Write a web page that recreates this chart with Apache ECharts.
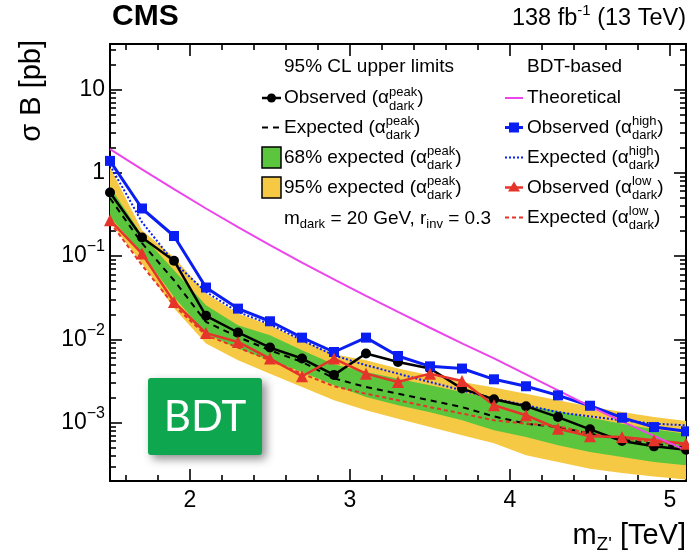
<!DOCTYPE html>
<html><head><meta charset="utf-8">
<script src="https://cdn.jsdelivr.net/npm/echarts@6.0.0/dist/echarts.min.js"></script>
<style>html,body{margin:0;padding:0;background:#fff;}#chart{width:689px;height:560px;}</style>
</head><body><div id="chart"></div>
<script>
// ---------------- data ----------------
const masses = [1.5,1.7,1.9,2.1,2.3,2.5,2.7,2.9,3.1,3.3,3.5,3.7,3.9,4.1,4.3,4.5,4.7,4.9,5.1];
const obsPeak = [0.578,0.167,0.0879,0.0192,0.0121,0.00798,0.00589,0.00375,0.00676,0.00536,0.00447,0.00257,0.00191,0.00158,0.00117,0.000834,0.000603,0.000521,0.000475];
const expPeak = [0.494,0.1426,0.0512,0.0162,0.0107,0.0074,0.00536,0.00341,0.00268,0.00223,0.00186,0.00154,0.00119,0.000975,0.000887,0.00074,0.000627,0.000561,0.000502];
const band68Hi = [0.676,0.178,0.0676,0.0256,0.0148,0.0112,0.0074,0.00502,0.00406,0.00338,0.00281,0.00234,0.00191,0.00162,0.00137,0.00115,0.000975,0.000834,0.00074];
const band68Lo = [0.2946,0.108,0.0323,0.01167,0.00776,0.00561,0.00406,0.00281,0.00204,0.00162,0.00134,0.00107,0.000811,0.000673,0.000536,0.000445,0.000387,0.000337,0.000308];
const band95Hi = [1.164,0.204,0.0968,0.0355,0.0204,0.0148,0.00975,0.00662,0.00561,0.00447,0.00371,0.00308,0.00264,0.00223,0.00186,0.00157,0.00135,0.00117,0.00105];
const band95Lo = [0.2566,0.0813,0.0236,0.00891,0.00561,0.00388,0.00268,0.00186,0.00141,0.00112,0.000888,0.000706,0.000566,0.000406,0.000337,0.000281,0.000249,0.000227,0.000209];
const obsHigh = [1.386,0.372,0.174,0.0419,0.0234,0.0165,0.0105,0.00706,0.0105,0.00632,0.00475,0.00447,0.00332,0.00274,0.00213,0.0016,0.00115,0.000887,0.000789];
const expHigh = [1.23,0.255,0.0843,0.0371,0.0213,0.0152,0.00975,0.00644,0.00489,0.00388,0.00308,0.00245,0.00195,0.00162,0.00134,0.00119,0.00107,0.000975,0.000931];
const obsLow = [0.269,0.107,0.0281,0.0119,0.00931,0.00589,0.00361,0.00589,0.00388,0.00308,0.00388,0.00317,0.00162,0.00123,0.000849,0.000687,0.000673,0.000615,0.000561];
const expLow = [0.255,0.0776,0.0256,0.0112,0.00798,0.00561,0.00388,0.00274,0.00223,0.00186,0.00154,0.00129,0.00107,0.000975,0.000912,0.000736,0.00065,0.00059,0.000536];
const theory = [1.914,1.095,0.634,0.372,0.222,0.135,0.0832,0.0526,0.0333,0.0214,0.0138,0.00897,0.00593,0.00381,0.00245,0.00157,0.00104,0.000697,0.000467];

const xTickLabels = [2,3,4,5];
const xMinorTicks = [1.6,1.8,2.2,2.4,2.6,2.8,3.2,3.4,3.6,3.8,4.2,4.4,4.6,4.8];
const yTickLabels = [1e-3,1e-2,1e-1,1,10];
const yMinorMantissas = [2,3,4,5,6,7,8,9];
const yMinorExponents = [-4,-3,-2,-1,0,1];

const XMIN = 1.5, XMAX = 5.1, YMIN = 2e-4, YMAX = 35;

// ---------------- helpers ----------------
const FF = '"Liberation Sans", Arial, Helvetica, sans-serif';
const mctx = document.createElement('canvas').getContext('2d');
function fontStr(s, w) { return (w || 'normal') + ' ' + s + 'px ' + FF; }
function tw(t, s, w) { mctx.font = fontStr(s, w); return mctx.measureText(t).width; }
function layout(list, x, y, align, color) {
  color = color || '#000';
  const widths = list.map(f => f.stack ? Math.max.apply(null, f.stack.map(g => tw(g.t, g.s, g.w))) : tw(f.t, f.s, f.w));
  const total = widths.reduce((a, b) => a + b, 0);
  let cx = align === 'right' ? x - total : (align === 'center' ? x - total / 2 : x);
  const els = [];
  list.forEach((f, i) => {
    (f.stack || [f]).forEach(p => {
      els.push({type: 'text', x: cx, y: y + (p.dy || 0), silent: true,
        style: {text: p.t, font: fontStr(p.s, p.w), fill: color,
          textAlign: 'left', textVerticalAlign: 'middle', align: 'left', verticalAlign: 'middle'}});
    });
    cx += widths[i];
  });
  return els;
}

const C_GREEN = '#5bc53e', C_YELLOW = '#f6c944', C_BLUE = '#0a1ef2', C_RED = '#e5352a', C_PINK = '#ec45ec';

function bandSeries(lo, hi, color) {
  return {
    type: 'custom', coordinateSystem: 'cartesian2d', silent: true,
    data: masses.map((m, i) => [m, lo[i], hi[i]]),
    encode: {x: 0, y: [1, 2]},
    renderItem: function (params, api) {
      if (params.dataIndex !== 0) return null;
      const top = masses.map((m, i) => api.coord([m, hi[i]]));
      const bot = masses.map((m, i) => api.coord([m, lo[i]])).reverse();
      return {type: 'polygon', shape: {points: top.concat(bot)}, style: {fill: color}};
    }
  };
}
function lineSeries(vals, color, width, dash, symbol, size) {
  return {
    type: 'line', silent: true,
    data: masses.map((m, i) => [m, vals[i]]),
    showSymbol: !!symbol, symbol: symbol || 'none', symbolSize: size || 0,
    lineStyle: {color: color, width: width, type: dash || 'solid'},
    itemStyle: {color: color},
    emphasis: {disabled: true}
  };
}

const series = [
  bandSeries(band95Lo, band95Hi, C_YELLOW),
  bandSeries(band68Lo, band68Hi, C_GREEN),
  lineSeries(expPeak, '#000', 2, [6, 5]),
  lineSeries(expHigh, C_BLUE, 2, [2, 2]),
  lineSeries(expLow, C_RED, 2, [4, 3]),
  lineSeries(obsPeak, '#000', 2.5, null, 'circle', 10),
  lineSeries(obsHigh, C_BLUE, 3, null, 'rect', 10),
  lineSeries(obsLow, C_RED, 2.5, null, 'triangle', 12),
  lineSeries(theory, C_PINK, 2),
  {
    type: 'custom', coordinateSystem: 'cartesian2d', silent: true, z: 10,
    data: yTickLabels.map(v => [XMIN, v]),
    renderItem: function (params, api) {
      const v = yTickLabels[params.dataIndex];
      const p = api.coord([XMIN, v]);
      const e = Math.round(Math.log10(v));
      const list = e === 1 ? [{t: '10', s: 23}] : e === 0 ? [{t: '1', s: 23}]
        : [{t: '10', s: 23}, {t: '\u2212' + (-e), s: 16, dy: -9}];
      return {type: 'group', children: layout(list, p[0] - 5, p[1], 'right')};
    }
  }
];

// ---------------- tick axes (native axis ticks at given values) ----------------
const yMinorTicks = [];
yMinorExponents.forEach(e => yMinorMantissas.forEach(m => {
  const v = m * Math.pow(10, e);
  if (v > YMIN * 1.001 && v < YMAX) yMinorTicks.push(v);
}));
const LOGMIN = Math.log10(YMIN), LOGMAX = Math.log10(YMAX);
function tickXAxis(pos, values, len) {
  return {type: 'value', min: XMIN, max: XMAX, position: pos, show: true, offset: 0,
    axisLine: {show: false, onZero: false}, splitLine: {show: false}, axisLabel: {show: false},
    axisTick: {show: true, inside: true, length: len, customValues: values, lineStyle: {color: '#000', width: 1.6}}};
}
function tickYAxis(pos, values, len) {
  return {type: 'value', min: LOGMIN, max: LOGMAX, position: pos, show: true, offset: 0,
    axisLine: {show: false, onZero: false}, splitLine: {show: false}, axisLabel: {show: false},
    axisTick: {show: true, inside: true, length: len, customValues: values.map(v => Math.log10(v)), lineStyle: {color: '#000', width: 1.6}}};
}

// ---------------- text & legend (graphic) ----------------
const LS = 19, SS = 13;
function alpha(sup) { return [{t: '\u03b1', s: LS}, {stack: [{t: sup, s: SS, dy: -6}, {t: 'dark', s: SS, dy: 8}]}, {t: ')', s: LS}]; }
const LX = 284, RX = 527;
const rows = [67, 98, 127.5, 157.5, 187.5, 217.5];
let g = [];
g = g.concat(layout([{t: 'CMS', s: 30, w: 'bold'}], 112, 17));
g = g.concat(layout([{t: '138 fb', s: 23.5}, {t: '-1', s: 15, dy: -8}, {t: ' (13 TeV)', s: 23.5}], 686, 19, 'right'));
g = g.concat(layout([{t: 'm', s: 29}, {t: "Z'", s: 19, dy: 9}, {t: ' [TeV]', s: 29}], 686, 536, 'right'));
g.push({type: 'text', x: 32, y: 40, rotation: Math.PI / 2, silent: true,
  style: {text: '\u03c3 B [pb]', font: fontStr(29), fill: '#000', textAlign: 'right', textVerticalAlign: 'middle', align: 'right', verticalAlign: 'middle'}});

g = g.concat(layout([{t: '95% CL upper limits', s: LS}], LX, rows[0]));
g = g.concat(layout([{t: 'Observed (', s: LS}].concat(alpha('peak')), LX, rows[1]));
g = g.concat(layout([{t: 'Expected (', s: LS}].concat(alpha('peak')), LX, rows[2]));
g = g.concat(layout([{t: '68% expected (', s: LS}].concat(alpha('peak')), LX, rows[3]));
g = g.concat(layout([{t: '95% expected (', s: LS}].concat(alpha('peak')), LX, rows[4]));
g = g.concat(layout([{t: 'm', s: LS}, {t: 'dark', s: SS, dy: 6}, {t: ' = 20 GeV, r', s: LS}, {t: 'inv', s: SS, dy: 6}, {t: ' = 0.3', s: LS}], LX, rows[5] + 1));

g = g.concat(layout([{t: 'BDT-based', s: LS}], RX, rows[0]));
g = g.concat(layout([{t: 'Theoretical', s: LS}], RX, rows[1]));
g = g.concat(layout([{t: 'Observed (', s: LS}].concat(alpha('high')), RX, rows[2]));
g = g.concat(layout([{t: 'Expected (', s: LS}].concat(alpha('high')), RX, rows[3]));
g = g.concat(layout([{t: 'Observed (', s: LS}].concat(alpha('low')), RX, rows[4]));
g = g.concat(layout([{t: 'Expected (', s: LS}].concat(alpha('low')), RX, rows[5]));

// legend symbols
const lx1 = 262, lx2 = 281, rx1 = 505, rx2 = 523;
function hline(x1, x2, y, color, w, dash) {
  return {type: 'line', silent: true, shape: {x1: x1, y1: y, x2: x2, y2: y}, style: {stroke: color, lineWidth: w, lineDash: dash || null}};
}
g.push(hline(lx1, lx2, rows[1], '#000', 2.5));
g.push({type: 'circle', silent: true, shape: {cx: (lx1 + lx2) / 2, cy: rows[1], r: 4.5}, style: {fill: '#000'}});
g.push(hline(lx1, lx2, rows[2], '#000', 2, [6, 5]));
g.push({type: 'rect', silent: true, shape: {x: lx1, y: rows[3] - 10.5, width: 19, height: 21}, style: {fill: C_GREEN, stroke: '#000', lineWidth: 1.5}});
g.push({type: 'rect', silent: true, shape: {x: lx1, y: rows[4] - 10.5, width: 19, height: 21}, style: {fill: C_YELLOW, stroke: '#000', lineWidth: 1.5}});
g.push(hline(rx1, rx2, rows[1], C_PINK, 2));
g.push(hline(rx1, rx2, rows[2], C_BLUE, 3));
g.push({type: 'rect', silent: true, shape: {x: (rx1 + rx2) / 2 - 5, y: rows[2] - 5, width: 10, height: 10}, style: {fill: C_BLUE}});
g.push(hline(rx1, rx2, rows[3], C_BLUE, 2, [2, 2]));
g.push(hline(rx1, rx2, rows[4], C_RED, 2.5));
g.push({type: 'polygon', silent: true, shape: {points: [[(rx1 + rx2) / 2, rows[4] - 6], [(rx1 + rx2) / 2 + 6, rows[4] + 4], [(rx1 + rx2) / 2 - 6, rows[4] + 4]]}, style: {fill: C_RED}});
g.push(hline(rx1, rx2, rows[5], C_RED, 2, [4, 3]));

// BDT badge
g.push({type: 'rect', silent: true, z: 50, shape: {x: 148, y: 378, width: 114, height: 77, r: 3},
  style: {fill: '#0ea64e', shadowBlur: 10, shadowColor: 'rgba(0,0,0,0.45)', shadowOffsetX: 4, shadowOffsetY: 4}});
g.push({type: 'text', silent: true, z: 51, x: 205, y: 417,
  style: {text: 'BDT', font: 'normal 42px Lato, "Open Sans", sans-serif', fill: '#fff', textAlign: 'center', textVerticalAlign: 'middle', align: 'center', verticalAlign: 'middle'}});

const chart = echarts.init(document.getElementById('chart'), null, {renderer: 'canvas'});
chart.setOption({
  animation: false,
  backgroundColor: '#fff',
  grid: {left: 110, right: 3, top: 44, bottom: 79, show: true, borderColor: '#000', borderWidth: 2, backgroundColor: '#fff', containLabel: false, outerBoundsMode: 'none'},
  xAxis: [
    {
      type: 'value', min: XMIN, max: XMAX, interval: 0.5, position: 'bottom', offset: 0,
      axisLine: {show: false, onZero: false}, splitLine: {show: false},
      axisTick: {show: true, inside: true, length: 12, customValues: xTickLabels, lineStyle: {color: '#000', width: 1.6}},
      axisLabel: {show: true, margin: 8, color: '#000', fontSize: 23, fontFamily: FF,
        showMinLabel: true, showMaxLabel: true,
        formatter: function (v) { return Math.abs(v - Math.round(v)) < 1e-6 ? String(Math.round(v)) : ''; }}
    },
    tickXAxis('bottom', xMinorTicks, 6),
    tickXAxis('top', xTickLabels, 12),
    tickXAxis('top', xMinorTicks, 6)
  ],
  yAxis: [
    {
      type: 'log', logBase: 10, min: YMIN, max: YMAX,
      axisLine: {show: false, onZero: false}, axisTick: {show: false}, splitLine: {show: false}, axisLabel: {show: false}
    },
    tickYAxis('left', yTickLabels, 12),
    tickYAxis('left', yMinorTicks, 6),
    tickYAxis('right', yTickLabels, 12),
    tickYAxis('right', yMinorTicks, 6)
  ],
  series: series,
  graphic: {elements: g}
});
</script></body></html>
